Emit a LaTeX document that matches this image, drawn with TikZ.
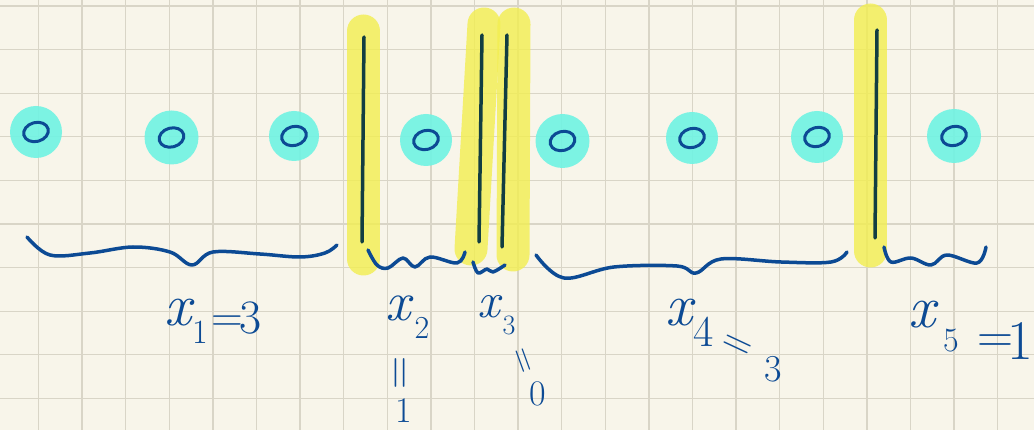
\documentclass[tikz,border=0pt]{standalone}
\usepackage{fontspec}
\definecolor{paper}{HTML}{F8F5EA}
\definecolor{gridc}{HTML}{D9D5C7}
\definecolor{hlyellow}{HTML}{F2EE50}
\definecolor{hlcyan}{HTML}{6FF3E3}
\definecolor{ink}{HTML}{0C4A94}
\definecolor{barink}{HTML}{123E42}
\tikzset{
  hlbar/.style={line width=33pt, line cap=round, draw=hlyellow, draw opacity=0.8},
  stroke/.style={draw=barink, line width=3.5pt, line cap=round},
  bracestroke/.style={draw=ink, line width=3.5pt, line cap=round, line join=round},
  ball/.style={circle, fill=hlcyan, fill opacity=0.9, minimum size=52pt, inner sep=0pt},
  ohand/.style={draw=ink, line width=3pt},
  lab/.style={text=ink, inner sep=0pt, font=\fontsize{#1}{#1}\selectfont},
  xlab/.style={text=ink, inner sep=0pt, font=\fontsize{#1}{#1}\selectfont\itshape},
}
\begin{document}
\begin{tikzpicture}[x=1pt,y=-1pt]
\path[fill=paper] (0,0) rectangle (1034,430);
\useasboundingbox (0,0) rectangle (1034,430);
\begin{scope}
\clip (0,0) rectangle (1034,430);
\foreach \k in {0,...,22} \draw[gridc, line width=1.3pt] ({38.5+43.6*\k},0) -- ({38.5+43.6*\k},430);
\foreach \k in {0,...,9} \draw[gridc, line width=1.3pt] (0,{6+43.6*\k}) -- (1034,{6+43.6*\k});

% balls
\node[ball, minimum size=52pt] (s1) at (36,132) {};
\node[ball, minimum size=54pt] (s2) at (171.5,137.5) {};
\node[ball, minimum size=50pt] (s3) at (294,136) {};
\node[ball, minimum size=52pt] (s4) at (426,140) {};
\node[ball, minimum size=54pt] (s5) at (562.5,141) {};
\node[ball, minimum size=52pt] (s6) at (692,138) {};
\node[ball, minimum size=52pt] (s7) at (817,137) {};
\node[ball, minimum size=54pt] (s8) at (954,136) {};
\foreach \s in {s1,s2,s3,s4,s5,s6,s7,s8}
  \draw[ohand, rotate=15] (\s) ellipse [x radius=12.5, y radius=9.5];

% highlighter bars
\draw[hlbar] (363.5,31) -- (363.5,259);
\draw[hlbar] (484,24) -- (471,249);
\draw[hlbar] (514,24) -- (513,255);
\draw[hlbar] (870.5,20) -- (870.5,251);

% bars
\coordinate (b1t) at (364,37); \coordinate (b1b) at (362,242);
\coordinate (b2t) at (482,35); \coordinate (b2b) at (479,242);
\coordinate (b3t) at (507,35); \coordinate (b3b) at (502,247);
\coordinate (b4t) at (877,30); \coordinate (b4b) at (875,238);
\draw[stroke] (b1t) -- (b1b);
\draw[stroke] (b2t) -- (b2b);
\draw[stroke] (b3t) -- (b3b);
\draw[stroke] (b4t) -- (b4b);

% braces
\draw[bracestroke] plot[smooth, tension=0.6] coordinates {(27,237) (50,255) (90,253) (133,247) (170,252) (192,265) (213,252) (260,254) (300,257) (325,253) (337,245)};
\draw[bracestroke] plot[smooth, tension=0.6] coordinates {(368,250) (377,265) (388,268) (403,258) (415,267) (430,257) (457,263) (465,252)};
\draw[bracestroke] plot[smooth, tension=0.6] coordinates {(473,262) (478,273) (487,269) (493,272) (505,265)};
\draw[bracestroke] plot[smooth, tension=0.6] coordinates {(536,255) (564,278) (614,267) (677,266) (696,273) (721,259) (781,262) (831,262) (847,252)};
\draw[bracestroke] plot[smooth, tension=0.6] coordinates {(884,247) (891,262) (911,258) (931,265) (947,255) (977,263) (986,247)};

% labels
\node[xlab=60] (l1x) at (178,313) {x};
\node[lab=34] (l1s) at (200,332) {1};
\node[lab=44] (l1e) at (227,324) {=};
\node[lab=48] (l1v) at (251,318) {3};

\node[xlab=56] (l2x) at (398,308) {x};
\node[lab=32] (l2s) at (422,328) {2};
\node[lab=46, rotate=90] (l2e) at (403,373) {=};
\node[lab=36] (l2v) at (404,411) {1};

\node[xlab=50] (l3x) at (489,307) {x};
\node[lab=28] (l3s) at (509,325) {3};
\node[lab=36, rotate=-70] (l3e) at (521,361) {=};
\node[lab=36] (l3v) at (538,394) {0};

\node[xlab=60] (l4x) at (679,313) {x};
\node[lab=44] (l4s) at (704,332) {4};
\node[lab=42, rotate=-25] (l4e) at (736,347) {=};
\node[lab=38] (l4v) at (773,369) {3};

\node[xlab=60] (l5x) at (922,315) {x};
\node[lab=34] (l5s) at (951,341) {5};
\node[lab=50] (l5e) at (995,344) {=};
\node[lab=56] (l5v) at (1020,341) {1};
\end{scope}
\end{tikzpicture}
\end{document}
